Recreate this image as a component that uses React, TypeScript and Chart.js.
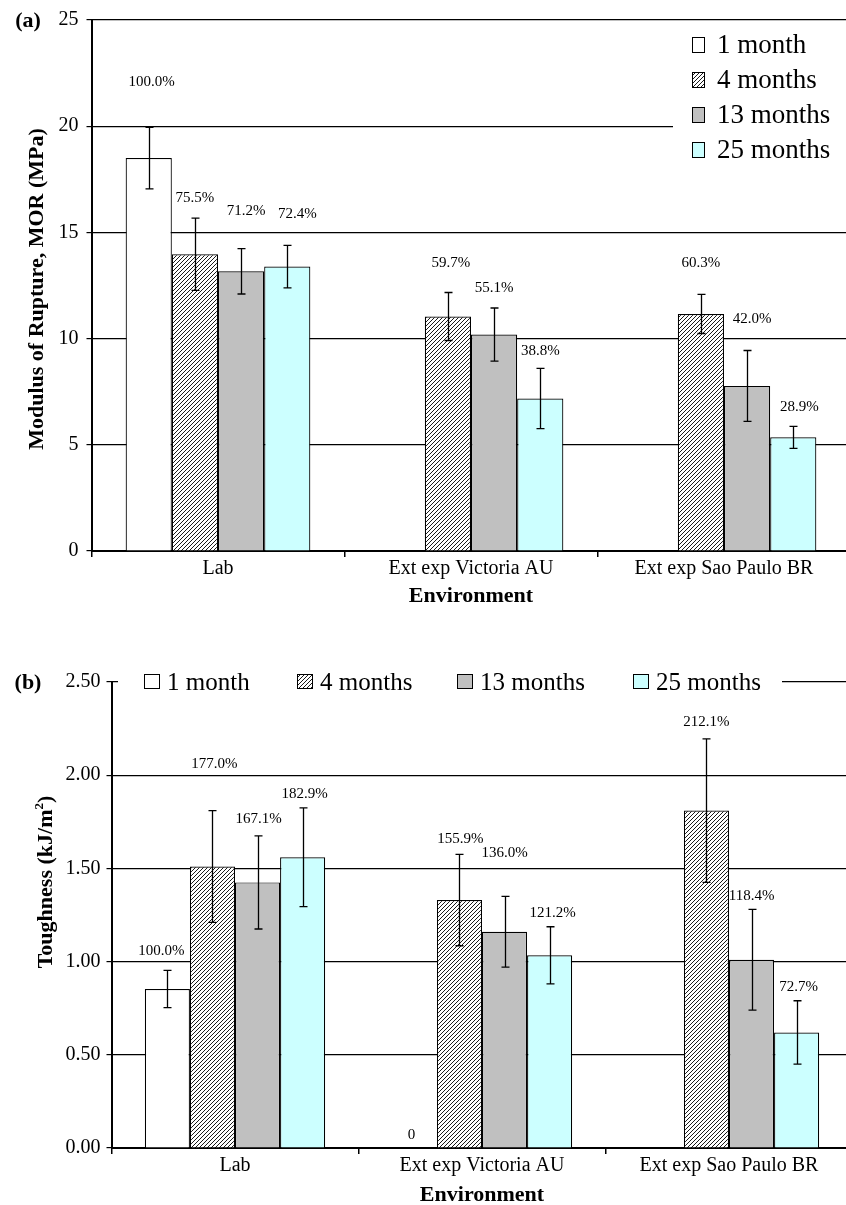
import React, { useEffect, useRef } from 'react';
import { Chart, registerables } from 'chart.js';

Chart.register(...registerables);

const FONT = '"Liberation Serif", "Times New Roman", serif';

// ---------- shared ----------
const categories = ['Lab', 'Ext exp Victoria AU', 'Ext exp Sao Paulo BR'];
const seriesNames = ['1 month', '4 months', '13 months', '25 months'];

// ---------- (a) Modulus of Rupture (MPa) ----------
const mor1Month = [18.5, null, null];
const mor4Months = [13.97, 11.04, 11.16];
const mor13Months = [13.17, 10.19, 7.77];
const mor25Months = [13.39, 7.18, 5.35];

const morErr1Month = [1.45, null, null];
const morErr4Months = [1.7, 1.13, 0.92];
const morErr13Months = [1.07, 1.25, 1.67];
const morErr25Months = [1.0, 1.42, 0.52];

const morPct1Month = ['100.0%', null, null];
const morPct4Months = ['75.5%', '59.7%', '60.3%'];
const morPct13Months = ['71.2%', '55.1%', '42.0%'];
const morPct25Months = ['72.4%', '38.8%', '28.9%'];

// where each percentage label sits (MPa) and its sideways nudge
const morLabelAt1Month = [22.1, null, null];
const morLabelAt4Months = [16.6, 13.54, 13.54];
const morLabelAt13Months = [15.99, 12.4, 10.9];
const morLabelAt25Months = [15.85, 9.39, 6.79];
const morLabelDx = [[3, 0, 0], [0, 3, 0], [5, 0, 5], [10, 0, 6]];

const morMax = 25;
const morStep = 5;

// ---------- (b) Toughness (kJ/m2) ----------
const tough1Month = [0.853, 0, null];
const tough4Months = [1.51, 1.33, 1.81];
const tough13Months = [1.425, 1.16, 1.01];
const tough25Months = [1.56, 1.034, 0.62];

const toughErr1Month = [0.1, null, null];
const toughErr4Months = [0.3, 0.245, 0.385];
const toughErr13Months = [0.25, 0.19, 0.27];
const toughErr25Months = [0.265, 0.153, 0.17];

const toughPct1Month = ['100.0%', '0', null];
const toughPct4Months = ['177.0%', '155.9%', '212.1%'];
const toughPct13Months = ['167.1%', '136.0%', '118.4%'];
const toughPct25Months = ['182.9%', '121.2%', '72.7%'];

const toughLabelAt1Month = [1.057, 0.07, null];
const toughLabelAt4Months = [2.06, 1.66, 2.285];
const toughLabelAt13Months = [1.765, 1.58, 1.35];
const toughLabelAt25Months = [1.9, 1.26, 0.864];
const toughLabelDx = [[-6, -3, 0], [2, 1, 0], [1, 0, 0], [2, 3, 2]];

const toughMax = 2.5;
const toughStep = 0.5;

// ---------- styles ----------
const solidFills = ['#ffffff', null, '#c0c0c0', '#ccffff'];

function makeHatch(): CanvasPattern | string {
  const s = 4;
  const c = document.createElement('canvas');
  c.width = s;
  c.height = s;
  const g = c.getContext('2d');
  if (!g) return '#ffffff';
  g.fillStyle = '#ffffff';
  g.fillRect(0, 0, s, s);
  g.strokeStyle = '#000000';
  g.lineWidth = 0.9;
  g.beginPath();
  g.moveTo(0, s);
  g.lineTo(s, 0);
  g.moveTo(-1, 1);
  g.lineTo(1, -1);
  g.moveTo(s - 1, s + 1);
  g.lineTo(s + 1, s - 1);
  g.stroke();
  return g.createPattern(c, 'repeat') || '#ffffff';
}

type Spec = {
  top: number;
  width: number;
  height: number;
  plotTop: number;
  plotBottom: number;
  yAxisWidth: number;
  padRight: number;
  yMax: number;
  yStep: number;
  decimals: number;
  tickPad: number;
  values: (number | null)[][];
  errors: (number | null)[][];
  pct: (string | null)[][];
  labelAt: (number | null)[][];
  labelDx: number[][];
  extras: (ctx: CanvasRenderingContext2D, chart: any, fills: any[]) => void;
};

function drawBox(ctx: CanvasRenderingContext2D, fill: any, x: number, y: number, w: number, h: number) {
  ctx.fillStyle = fill;
  ctx.fillRect(x, y, w, h);
  ctx.strokeStyle = '#000';
  ctx.lineWidth = 1;
  ctx.strokeRect(x + 0.5, y + 0.5, w, h);
}

const specA: Spec = {
  top: 0,
  width: 852,
  height: 610,
  plotTop: 20,
  plotBottom: 551,
  yAxisWidth: 91.5,
  padRight: 1.5,
  yMax: morMax,
  yStep: morStep,
  decimals: 0,
  tickPad: 8,
  values: [mor1Month, mor4Months, mor13Months, mor25Months],
  errors: [morErr1Month, morErr4Months, morErr13Months, morErr25Months],
  pct: [morPct1Month, morPct4Months, morPct13Months, morPct25Months],
  labelAt: [morLabelAt1Month, morLabelAt4Months, morLabelAt13Months, morLabelAt25Months],
  labelDx: morLabelDx,
  extras: (ctx, chart, fills) => {
    const area = chart.chartArea;
    ctx.save();
    // legend
    ctx.fillStyle = '#ffffff';
    ctx.fillRect(673, 23, 185, 152);
    seriesNames.forEach((name, i) => {
      const cy = 45 + 35 * i;
      drawBox(ctx, fills[i], 692, cy - 8, 12, 15);
      ctx.fillStyle = '#000';
      ctx.font = `27px ${FONT}`;
      ctx.textAlign = 'left';
      ctx.textBaseline = 'middle';
      ctx.fillText(name, 717, cy + 1);
    });
    ctx.fillStyle = '#000';
    ctx.font = `bold 22px ${FONT}`;
    ctx.textAlign = 'center';
    ctx.textBaseline = 'middle';
    ctx.fillText('(a)', 28, 21);
    ctx.fillText('Environment', (area.left + area.right) / 2, area.bottom + 45);
    ctx.translate(43, 289);
    ctx.rotate(-Math.PI / 2);
    ctx.textBaseline = 'alphabetic';
    ctx.fillText('Modulus of Rupture, MOR (MPa)', 0, 0);
    ctx.restore();
  },
};

const B_TOP = 615;
const specB: Spec = {
  top: B_TOP,
  width: 854,
  height: 590,
  plotTop: 682 - B_TOP,
  plotBottom: 1148 - B_TOP,
  yAxisWidth: 111.5,
  padRight: 1.5,
  yMax: toughMax,
  yStep: toughStep,
  decimals: 2,
  tickPad: 6,
  values: [tough1Month, tough4Months, tough13Months, tough25Months],
  errors: [toughErr1Month, toughErr4Months, toughErr13Months, toughErr25Months],
  pct: [toughPct1Month, toughPct4Months, toughPct13Months, toughPct25Months],
  labelAt: [toughLabelAt1Month, toughLabelAt4Months, toughLabelAt13Months, toughLabelAt25Months],
  labelDx: toughLabelDx,
  extras: (ctx, chart, fills) => {
    const area = chart.chartArea;
    const cy = area.top;
    ctx.save();
    // legend (single row over the top gridline)
    ctx.fillStyle = '#ffffff';
    ctx.fillRect(118, cy - 15, 664, 30);
    const boxX = [144, 297, 457, 633];
    seriesNames.forEach((name, i) => {
      drawBox(ctx, fills[i], boxX[i], cy - 8, 15, 14);
      ctx.fillStyle = '#000';
      ctx.font = `25px ${FONT}`;
      ctx.textAlign = 'left';
      ctx.textBaseline = 'middle';
      ctx.fillText(name, boxX[i] + 23, cy + 1);
    });
    ctx.fillStyle = '#000';
    ctx.font = `bold 22px ${FONT}`;
    ctx.textAlign = 'center';
    ctx.textBaseline = 'middle';
    ctx.fillText('(b)', 28, cy + 1);
    ctx.fillText('Environment', (area.left + area.right) / 2, area.bottom + 47);
    // rotated y title with superscript
    ctx.translate(52, 882 - B_TOP);
    ctx.rotate(-Math.PI / 2);
    ctx.textBaseline = 'alphabetic';
    ctx.textAlign = 'left';
    const main = 'Toughness (kJ/m';
    const big = `bold 22px ${FONT}`;
    const small = `bold 13px ${FONT}`;
    ctx.font = big;
    const w1 = ctx.measureText(main).width;
    const w3 = ctx.measureText(')').width;
    ctx.font = small;
    const w2 = ctx.measureText('2').width;
    let x = -(w1 + w2 + w3) / 2;
    ctx.font = big;
    ctx.fillText(main, x, 0);
    x += w1;
    ctx.font = small;
    ctx.fillText('2', x, -9);
    x += w2;
    ctx.font = big;
    ctx.fillText(')', x, 0);
    ctx.restore();
  },
};

function ChartPanel({ spec }: { spec: Spec }) {
  const ref = useRef<HTMLCanvasElement | null>(null);
  useEffect(() => {
    const canvas = ref.current;
    if (!canvas) return;
    const hatch = makeHatch();
    const fills = solidFills.map((f) => (f === null ? hatch : f));

    const overlay = {
      id: 'overlay',
      afterDatasetsDraw(chart: any) {
        const ctx: CanvasRenderingContext2D = chart.ctx;
        const ys = chart.scales.y;
        ctx.save();
        ctx.strokeStyle = '#000';
        ctx.lineWidth = 1.3;
        spec.values.forEach((vals, i) => {
          const meta = chart.getDatasetMeta(i);
          vals.forEach((v, j) => {
            const e = spec.errors[i][j];
            if (v == null || e == null) return;
            const bar = meta.data[j];
            const x = Math.round(bar.x) + 0.5;
            const y1 = ys.getPixelForValue(v + e);
            const y2 = ys.getPixelForValue(v - e);
            ctx.beginPath();
            ctx.moveTo(x, y1);
            ctx.lineTo(x, y2);
            ctx.moveTo(x - 4, y1);
            ctx.lineTo(x + 4, y1);
            ctx.moveTo(x - 4, y2);
            ctx.lineTo(x + 4, y2);
            ctx.stroke();
          });
        });
        ctx.fillStyle = '#000';
        ctx.font = `15px ${FONT}`;
        ctx.textAlign = 'center';
        ctx.textBaseline = 'middle';
        spec.pct.forEach((labs, i) => {
          const meta = chart.getDatasetMeta(i);
          labs.forEach((t, j) => {
            const at = spec.labelAt[i][j];
            if (t == null || at == null) return;
            const bar = meta.data[j];
            ctx.fillText(t, bar.x + spec.labelDx[i][j], ys.getPixelForValue(at));
          });
        });
        ctx.restore();
      },
      afterDraw(chart: any) {
        spec.extras(chart.ctx, chart, fills);
      },
    };

    const chart = new Chart(canvas, {
      type: 'bar',
      data: {
        labels: categories,
        datasets: spec.values.map((vals, i) => ({
          label: seriesNames[i],
          data: vals,
          backgroundColor: fills[i],
          borderColor: '#000000',
          borderWidth: 1.2,
          categoryPercentage: 0.73,
          barPercentage: 1,
        })),
      },
      options: {
        responsive: false,
        maintainAspectRatio: false,
        animation: false,
        events: [],
        layout: { padding: { left: 0, top: spec.plotTop, right: spec.padRight, bottom: 0 } },
        plugins: {
          legend: { display: false },
          tooltip: { enabled: false },
          title: { display: false },
        },
        scales: {
          x: {
            type: 'category',
            offset: true,
            grid: {
              offset: true,
              drawOnChartArea: false,
              drawTicks: true,
              tickLength: 6,
              color: '#000000',
              lineWidth: 1.5,
            },
            border: { display: true, color: '#000000', width: 2 },
            ticks: {
              font: { family: FONT, size: 20 },
              color: '#000000',
              padding: 0,
              maxRotation: 0,
              autoSkip: false,
            },
            afterFit: (s: any) => {
              s.height = spec.height - spec.plotBottom;
            },
          },
          y: {
            min: 0,
            max: spec.yMax,
            ticks: {
              stepSize: spec.yStep,
              font: { family: FONT, size: 20 },
              color: '#000000',
              padding: spec.tickPad,
              callback: (v: any) => Number(v).toFixed(spec.decimals),
            },
            grid: {
              color: '#000000',
              lineWidth: 1.2,
              drawTicks: true,
              tickLength: 5,
              tickColor: '#000000',
            },
            border: { display: true, color: '#000000', width: 2 },
            afterFit: (s: any) => {
              s.width = spec.yAxisWidth;
            },
          },
        },
      } as any,
      plugins: [overlay as any],
    });
    return () => chart.destroy();
  }, [spec]);

  return (
    <canvas
      ref={ref}
      width={spec.width}
      height={spec.height}
      style={{ position: 'absolute', left: 0, top: spec.top, width: spec.width, height: spec.height }}
    />
  );
}

export default function App() {
  return (
    <div
      style={{
        position: 'fixed',
        left: 0,
        top: 0,
        width: 846,
        height: 1205,
        overflow: 'hidden',
        background: '#ffffff',
      }}
    >
      <ChartPanel spec={specA} />
      <ChartPanel spec={specB} />
    </div>
  );
}
